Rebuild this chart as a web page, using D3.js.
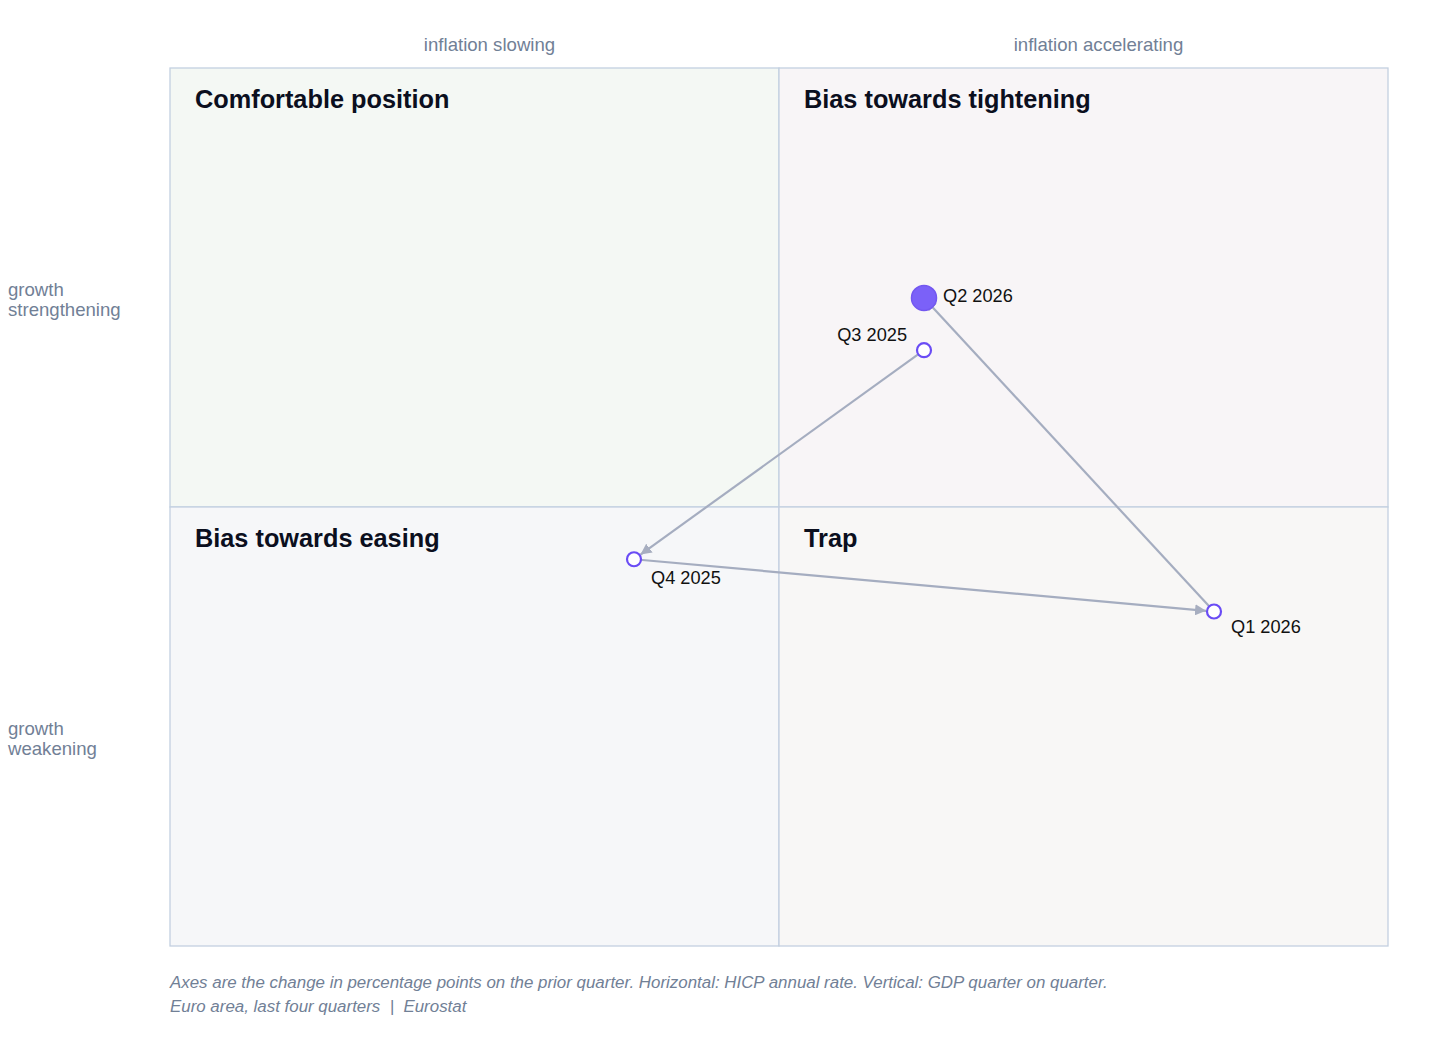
<!DOCTYPE html>
<html>
<head>
<meta charset="utf-8">
<script src="https://cdn.jsdelivr.net/npm/d3@7"></script>
<style>
  body { margin: 0; background: #fff; }
  svg { font-family: "Liberation Sans", Arial, sans-serif; display: block; }
</style>
</head>
<body>
<script>
// quarters in order, change in pp on the prior quarter
const quarters = ["Q3 2025", "Q4 2025", "Q1 2026", "Q2 2026"];
const inflationChange = [0.1, -0.1, 0.3, 0.1];   // HICP annual rate
const growthChange = [0.3, -0.1, -0.2, 0.4];     // GDP q/q

const quadrantNames = ["Comfortable position", "Bias towards tightening", "Bias towards easing", "Trap"];
const columnLabels = ["inflation slowing", "inflation accelerating"];
const rowLabels = [["growth", "strengthening"], ["growth", "weakening"]];
const noteLines = [
  "Axes are the change in percentage points on the prior quarter. Horizontal: HICP annual rate. Vertical: GDP quarter on quarter.",
  "Euro area, last four quarters  |  Eurostat"
];

let width = 1456, height = 1048;
let margin = { top: 68, right: 68, bottom: 102, left: 170 };

let svg = d3.select("body").append("svg")
  .attr("width", width)
  .attr("height", height);

let x = d3.scaleLinear().domain([-0.42, 0.42]).range([margin.left, width - margin.right]);
let y = d3.scaleLinear().domain([-0.84, 0.84]).range([height - margin.bottom, margin.top]);

const x0 = x(0), y0 = y(0);
const pLeft = x.range()[0], pRight = x.range()[1], pTop = y.range()[1], pBottom = y.range()[0];

// quadrant backgrounds
const quads = [
  { name: quadrantNames[0], x: pLeft, y: pTop, w: x0 - pLeft, h: y0 - pTop, fill: "#f4f8f4" },
  { name: quadrantNames[1], x: x0, y: pTop, w: pRight - x0, h: y0 - pTop, fill: "#f8f5f7" },
  { name: quadrantNames[2], x: pLeft, y: y0, w: x0 - pLeft, h: pBottom - y0, fill: "#f6f7f9" },
  { name: quadrantNames[3], x: x0, y: y0, w: pRight - x0, h: pBottom - y0, fill: "#f8f7f6" }
];

svg.append("g").selectAll("rect")
  .data(quads)
  .join("rect")
  .attr("x", d => d.x).attr("y", d => d.y)
  .attr("width", d => d.w).attr("height", d => d.h)
  .attr("fill", d => d.fill)
  .attr("stroke", "#c3d0e0")
  .attr("stroke-width", 1.3);

svg.append("g").selectAll("text")
  .data(quads)
  .join("text")
  .attr("x", d => d.x + 25)
  .attr("y", d => d.y + 40)
  .attr("font-size", 25.3)
  .attr("font-weight", "bold")
  .attr("fill", "#0b0f1e")
  .text(d => d.name);

// column and row headers
svg.append("g").selectAll("text")
  .data(columnLabels)
  .join("text")
  .attr("x", (d, i) => (i === 0 ? (pLeft + x0) / 2 : (x0 + pRight) / 2) + 15)
  .attr("y", 51)
  .attr("text-anchor", "middle")
  .attr("font-size", 18.6)
  .attr("fill", "#718096")
  .text(d => d);

svg.append("g").selectAll("text")
  .data(rowLabels)
  .join("text")
  .attr("x", 8)
  .attr("y", (d, i) => (i === 0 ? (pTop + y0) / 2 : (y0 + pBottom) / 2) + 8)
  .attr("font-size", 18.6)
  .attr("fill", "#718096")
  .each(function(d) {
    d3.select(this).selectAll("tspan")
      .data(d)
      .join("tspan")
      .attr("x", 8)
      .attr("dy", (t, j) => j === 0 ? 0 : 20)
      .text(t => t);
  });

// points
let points = quarters.map((q, i) => ({ q, px: x(inflationChange[i]), py: y(growthChange[i]), last: i === quarters.length - 1 }));

svg.append("defs").append("marker")
  .attr("id", "arrow")
  .attr("viewBox", "0 0 10 10")
  .attr("refX", 10).attr("refY", 5)
  .attr("markerWidth", 5).attr("markerHeight", 5)
  .attr("orient", "auto")
  .append("path")
  .attr("d", "M0,0L10,5L0,10Z")
  .attr("fill", "#a7aec0");

// arrows between consecutive quarters, trimmed to the circle edge
let segs = d3.pairs(points).map(([a, b]) => {
  let dx = b.px - a.px, dy = b.py - a.py, len = Math.hypot(dx, dy);
  let trim = b.last ? 2 : 8;
  return { x1: a.px, y1: a.py, x2: b.px - dx / len * trim, y2: b.py - dy / len * trim };
});

svg.append("g").selectAll("line")
  .data(segs)
  .join("line")
  .attr("x1", d => d.x1).attr("y1", d => d.y1)
  .attr("x2", d => d.x2).attr("y2", d => d.y2)
  .attr("stroke", "#a5adc0")
  .attr("stroke-width", 2.2)
  .attr("marker-end", "url(#arrow)");

svg.append("g").selectAll("circle")
  .data(points)
  .join("circle")
  .attr("cx", d => d.px).attr("cy", d => d.py)
  .attr("r", d => d.last ? 12.5 : 7)
  .attr("fill", d => d.last ? "#7b61f8" : "#fff")
  .attr("stroke", d => d.last ? "#7357f0" : "#6a4cf5")
  .attr("stroke-width", d => d.last ? 1.5 : 2.2);

// label placement for each quarter
const labelPlace = {
  "Q3 2025": { dx: -17, dy: -9, anchor: "end" },
  "Q4 2025": { dx: 17, dy: 25, anchor: "start" },
  "Q1 2026": { dx: 17, dy: 21, anchor: "start" },
  "Q2 2026": { dx: 19, dy: 4, anchor: "start" }
};

svg.append("g").selectAll("text")
  .data(points)
  .join("text")
  .attr("x", d => d.px + labelPlace[d.q].dx)
  .attr("y", d => d.py + labelPlace[d.q].dy)
  .attr("text-anchor", d => labelPlace[d.q].anchor)
  .attr("font-size", 18.2)
  .attr("fill", "#111")
  .text(d => d.q);

// footnote
svg.append("g").selectAll("text")
  .data(noteLines)
  .join("text")
  .attr("x", pLeft)
  .attr("y", (d, i) => 988 + i * 24)
  .attr("font-size", 16.9)
  .attr("font-style", "italic")
  .attr("fill", "#718096")
  .style("white-space", "pre")
  .text(d => d);
</script>
</body>
</html>
